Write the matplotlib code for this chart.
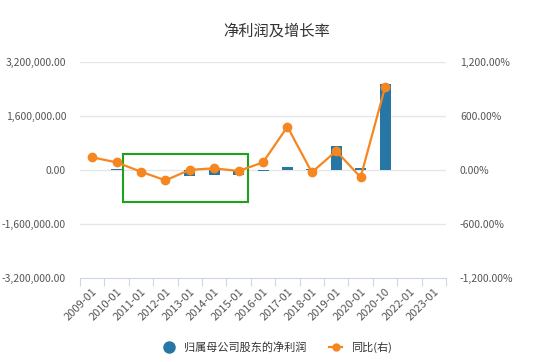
import matplotlib
matplotlib.use('Agg')
import matplotlib.pyplot as plt
from matplotlib.patches import Rectangle
from matplotlib.lines import Line2D
import numpy as np

plt.rcParams['font.family'] = ['Noto Sans CJK SC', 'DejaVu Sans']

# ==================================================
#   Daten
periods = ['2009-01', '2010-01', '2011-01', '2012-01', '2013-01', '2014-01', '2015-01',
           '2016-01', '2017-01', '2018-01', '2019-01', '2020-01', '2020-10', '2022-01', '2023-01']
profit = [8000, 40000, -6000, -6000, -180000, -150000, -150000,
          -30000, 90000, 30000, 715000, 70000, 2540000, np.nan, np.nan]
growth = [141, 85, -19, -115, 2, 19, -11,
          85, 481, -26, 211, -81, 919, np.nan, np.nan]
left_ticks = [-3200000, -1600000, 0, 1600000, 3200000]
right_ticks = [-1200, -600, 0, 600, 1200]
title = '净利润及增长率'
bar_name = '归属母公司股东的净利润'
line_name = '同比(右)'

blue = '#2876a3'
orange = '#f68720'
green = '#1ea21e'
txt = '#555555'

# ==================================================
fig = plt.figure(figsize=(5.54, 3.62), dpi=100)
ax = fig.add_axes([0.1444, 0.232, 0.6607, 0.5967])
ax2 = ax.twinx()

x = np.arange(len(periods))
ax.bar(x, profit, width=0.45, color=blue, zorder=2)
ax2.plot(x, growth, '-o', color=orange, lw=1.6, ms=6, zorder=3)

ax.set_xlim(-0.5, len(periods) - 0.5)
ax.set_ylim(left_ticks[0], left_ticks[-1])
ax2.set_ylim(right_ticks[0], right_ticks[-1])

ax.set_yticks(left_ticks)
ax.set_yticklabels([f'{v:,.2f}' for v in left_ticks])
ax2.set_yticks(right_ticks)
ax2.set_yticklabels([f'{v:,.2f}%' for v in right_ticks])

for t in left_ticks[1:]:
    ax.axhline(t, color='#e6e6e6', lw=1, zorder=1)

for a in (ax, ax2):
    for s in a.spines.values():
        s.set_visible(False)
    a.tick_params(axis='y', length=0, labelsize=7.5, colors=txt)
ax.tick_params(axis='y', pad=10)
ax2.tick_params(axis='y', pad=10)

ax.spines['bottom'].set_visible(True)
ax.spines['bottom'].set_color('#ccd6eb')
ax.set_xticks(np.arange(-0.5, len(periods), 1.0), minor=False)
ax.set_xticklabels([])
ax.tick_params(axis='x', which='major', length=6, color='#ccd6eb')
ax.set_xticks(x, minor=True)
ax.set_xticklabels(periods, minor=True, rotation=45, ha='right', rotation_mode='anchor',
                   fontsize=8, color=txt)
ax.tick_params(axis='x', which='minor', length=0, pad=6)

# green frame
ax.add_patch(Rectangle((1.25, -954000), 5.15, 1440000, fill=False,
                       edgecolor=green, lw=1.5, zorder=4))

fig.text(0.5, 0.915, title, ha='center', va='center', fontsize=11, color='#333333')

handles = [Line2D([], [], marker='o', ls='none', color=blue, ms=8),
           Line2D([], [], marker='o', ls='-', color=orange, ms=5, lw=1.6)]
fig.legend(handles, [bar_name, line_name], loc='center', bbox_to_anchor=(0.5, 0.04),
           ncol=2, frameon=False, fontsize=8, handlelength=1.2, columnspacing=2,
           labelcolor='#333333')

fig.savefig('out.png', dpi=100)
